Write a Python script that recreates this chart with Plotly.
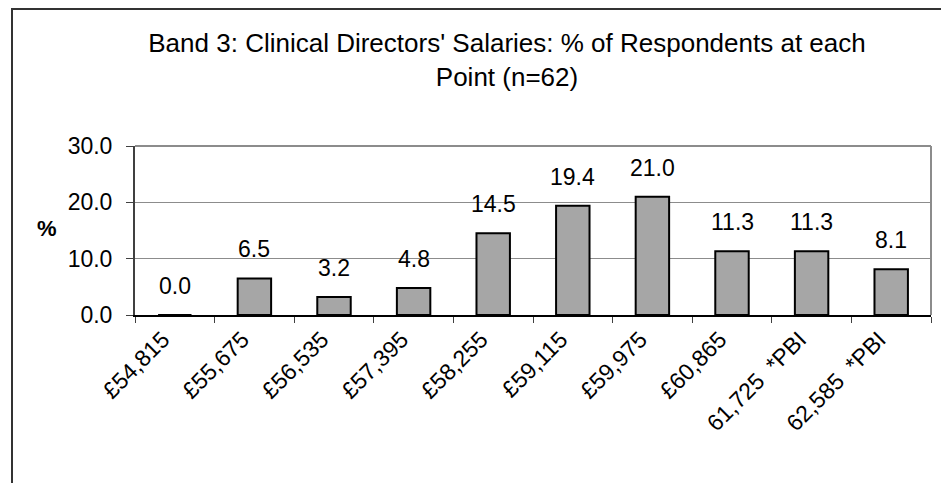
import plotly.graph_objects as go

categories = ["£54,815", "£55,675", "£56,535", "£57,395", "£58,255", "£59,115",
              "£59,975", "£60,865", "61,725\u00a0\u00a0*PBI", "62,585\u00a0\u00a0*PBI"]
values = [0.0, 6.5, 3.2, 4.8, 14.5, 19.4, 21.0, 11.3, 11.3, 8.1]
y_ticks = [0, 10, 20, 30]
y_tick_labels = ["0.0", "10.0", "20.0", "30.0"]

FONT = "Liberation Sans, Arial, sans-serif"
OFF = 8  # page body margin offset
W, H = 949 - OFF, 483 - OFF
# plot area in page pixels: left 135, right 931, top 146, bottom 315
L = 135 - OFF
R = W - (931 - OFF)
T = 146 - OFF
B = H - (315 - OFF)
pw, ph = W - L - R, H - T - B

def px2x(px):
    return (px - OFF - L) / pw

def py2y(py):
    return (H - B - (py - OFF)) / ph

fig = go.Figure()
fig.add_trace(go.Bar(
    x=categories, y=values,
    marker=dict(color="#A6A6A6", line=dict(color="black", width=2)),
    width=0.42,
    hoverinfo="skip",
))

annotations = []
for c, v in zip(categories, values):
    annotations.append(dict(x=c, y=v, xref="x", yref="y", text=f"{v:.1f}",
                            showarrow=False, yanchor="middle", yshift=29,
                            font=dict(family=FONT, size=23, color="black")))
annotations.append(dict(x=px2x(47), y=py2y(228), xref="paper", yref="paper",
                        text="<b>%</b>", showarrow=False, xanchor="center", yanchor="middle",
                        font=dict(family=FONT, size=22, color="black")))

fig.update_layout(
    width=W, height=H,
    margin=dict(l=L, r=R, t=T, b=B),
    paper_bgcolor="white", plot_bgcolor="white",
    showlegend=False,
    font=dict(family=FONT, size=23, color="black"),
    title=dict(text="Band 3: Clinical Directors' Salaries: % of Respondents at each<br>Point (n=62)",
               x=(507 - OFF) / W, xanchor="center", xref="container",
               y=1 - 44 / H, yanchor="top", yref="container",
               font=dict(family=FONT, size=26, color="black")),
    xaxis=dict(
        type="category",
        showline=True, linecolor="black", linewidth=2,
        ticks="outside", tickson="boundaries", ticklen=6, tickcolor="#404040", tickwidth=1,
        tickangle=-45,
        ticklabelshift=-12,
        tickfont=dict(family=FONT, size=23, color="black"),
        showgrid=False,
    ),
    yaxis=dict(
        range=[0, 30],
        tickvals=y_ticks, ticktext=y_tick_labels,
        showline=True, linecolor="#404040", linewidth=2,
        ticks="outside", ticklen=7, tickcolor="#404040",
        showgrid=True, gridcolor="#8C8C8C", gridwidth=1,
        tickfont=dict(family=FONT, size=23, color="black"),
        ticklabelstandoff=9,
        zeroline=False,
    ),
    annotations=annotations,
    shapes=[
        dict(type="line", xref="paper", yref="paper", x0=0, x1=1, y0=1, y1=1,
             line=dict(color="#8C8C8C", width=2)),
        dict(type="line", xref="paper", yref="paper", x0=1, x1=1, y0=0, y1=1,
             line=dict(color="#8C8C8C", width=2)),
        dict(type="rect", xref="paper", yref="paper",
             x0=px2x(12), x1=px2x(990), y0=py2y(530), y1=py2y(9),
             line=dict(color="#333333", width=2), fillcolor="rgba(0,0,0,0)", layer="below"),
    ],
)

fig.write_html("out.html")
